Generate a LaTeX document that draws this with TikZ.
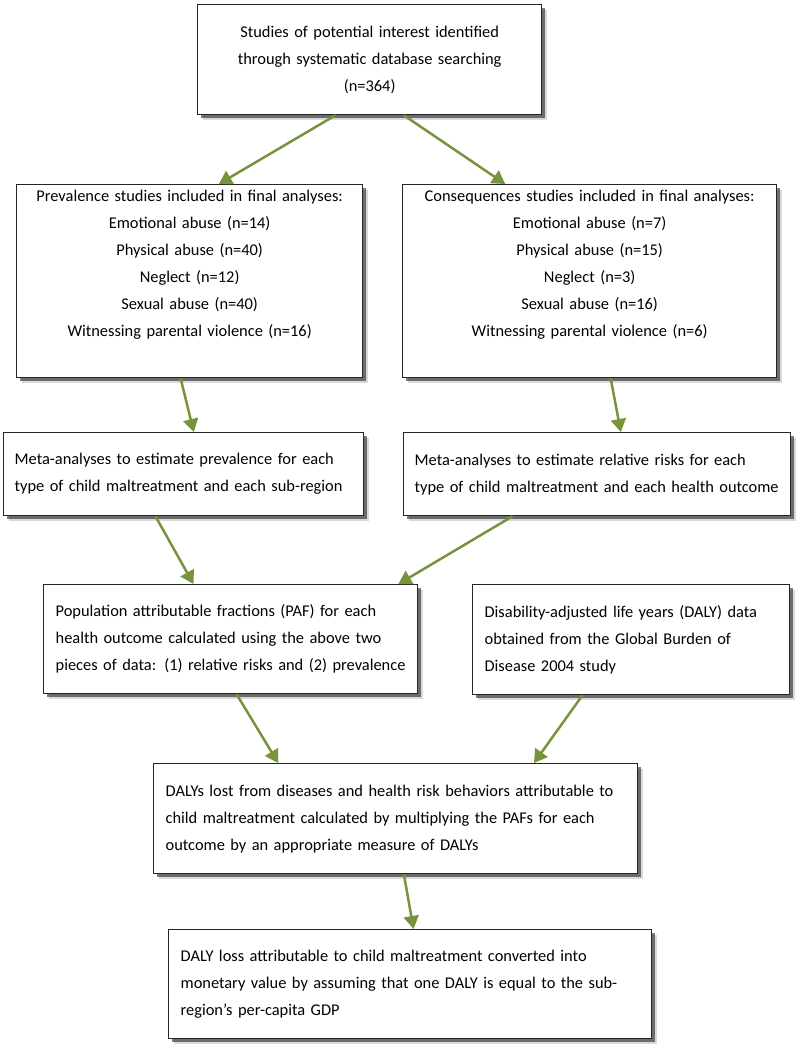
\documentclass[tikz,border=0pt]{standalone}
\usepackage{fontspec}
\setmainfont{Carlito}
\usetikzlibrary{shadows,calc,arrows.meta}
\definecolor{arrowgreen}{HTML}{77933C}
\newcommand\tl[1]{\mbox{#1}}
\newcommand\boxfont{\fontsize{16.4}{27}\selectfont}
\begin{document}
\begin{tikzpicture}[x=1pt,y=-1pt,
  box/.style={draw=black!85, line width=1.3pt, fill=white, inner xsep=12pt, inner ysep=0pt,
    font=\boxfont, anchor=north west,
    drop shadow={shadow xshift=5pt, shadow yshift=-5pt, opacity=0.15, fill=black},
    drop shadow={shadow xshift=3pt, shadow yshift=-3pt, opacity=0.5, fill=black}},
  flow/.style={draw=arrowgreen, line width=2.5pt, -{Triangle[length=13pt,width=15pt]}}
]
\useasboundingbox (0,0) rectangle (800,1050);

\node[box, minimum width=344pt, minimum height=110pt, text width=320pt, align=center] (b1) at (197,4)
  {\tl{Studies of potential interest identified}\\ \tl{through systematic database searching}\\ (n=364)};

\node[box, minimum width=346pt, minimum height=193pt, text width=322pt, align=center] (b2) at (16,184)
  {\tl{Prevalence studies included in final analyses:}\\ \tl{Emotional abuse (n=14)}\\ \tl{Physical abuse (n=40)}\\ \tl{Neglect (n=12)}\\ \tl{Sexual abuse (n=40)}\\ \tl{Witnessing parental violence (n=16)}\\ \strut};

\node[box, minimum width=374pt, minimum height=193pt, text width=350pt, align=center] (b3) at (402,184)
  {\tl{Consequences studies included in final analyses:}\\ \tl{Emotional abuse (n=7)}\\ \tl{Physical abuse (n=15)}\\ \tl{Neglect (n=3)}\\ \tl{Sexual abuse (n=16)}\\ \tl{Witnessing parental violence (n=6)}\\ \strut};

\node[box, minimum width=360pt, minimum height=83pt, text width=338pt, inner xsep=11pt, align=left] (b4) at (3,432)
  {\tl{Meta-analyses to estimate prevalence for each}\\ \tl{type of child maltreatment and each sub-region}};

\node[box, minimum width=387pt, minimum height=83pt, text width=365pt, inner xsep=11pt, align=left] (b5) at (403,432)
  {\tl{Meta-analyses to estimate relative risks for each}\\ \tl{type of child maltreatment and each health outcome}};

\node[box, minimum width=374pt, minimum height=109pt, text width=350pt, align=left] (b6) at (43,584)
  {\tl{Population attributable fractions (PAF) for each}\\ \tl{health outcome calculated using the above two}\\ \tl{pieces of data: (1) relative risks and (2) prevalence}};

\node[box, minimum width=317pt, minimum height=110pt, text width=293pt, align=left] (b7) at (472,584)
  {\tl{Disability-adjusted life years (DALY) data}\\ \tl{obtained from the Global Burden of}\\ \tl{Disease 2004 study}};

\node[box, minimum width=484pt, minimum height=110pt, text width=460pt, align=left] (b8) at (153,763)
  {\tl{DALYs lost from diseases and health risk behaviors attributable to}\\ \tl{child maltreatment calculated by multiplying the PAFs for each}\\ \tl{outcome by an appropriate measure of DALYs}};

\node[box, minimum width=483pt, minimum height=109pt, text width=459pt, align=left] (b9) at (168,929)
  {\tl{DALY loss attributable to child maltreatment converted into}\\ \tl{monetary value by assuming that one DALY is equal to the sub-}\\ \tl{region’s per-capita GDP}};

\draw[flow] ($(b1.south west)!0.401!(b1.south east)$) -- ($(b2.north west)!0.584!(b2.north east)$);
\draw[flow] ($(b1.south west)!0.599!(b1.south east)$) -- ($(b3.north west)!0.275!(b3.north east)$);
\draw[flow] ($(b2.south west)!0.474!(b2.south east)$) -- ($(b4.north west)!0.528!(b4.north east)$);
\draw[flow] ($(b3.south west)!0.556!(b3.south east)$) -- ($(b5.north west)!0.561!(b5.north east)$);
\draw[flow] ($(b4.south west)!0.422!(b4.south east)$) -- ($(b6.north west)!0.401!(b6.north east)$);
\draw[flow] ($(b5.south west)!0.282!(b5.south east)$) -- ($(b6.north west)!0.947!(b6.north east)$);
\draw[flow] ($(b6.south west)!0.516!(b6.south east)$) -- ($(b8.north west)!0.258!(b8.north east)$);
\draw[flow] ($(b7.south west)!0.347!(b7.south east)$) -- ($(b8.north west)!0.785!(b8.north east)$);
\draw[flow] ($(b8.south west)!0.517!(b8.south east)$) -- ($(b9.north west)!0.507!(b9.north east)$);
\end{tikzpicture}
\end{document}
